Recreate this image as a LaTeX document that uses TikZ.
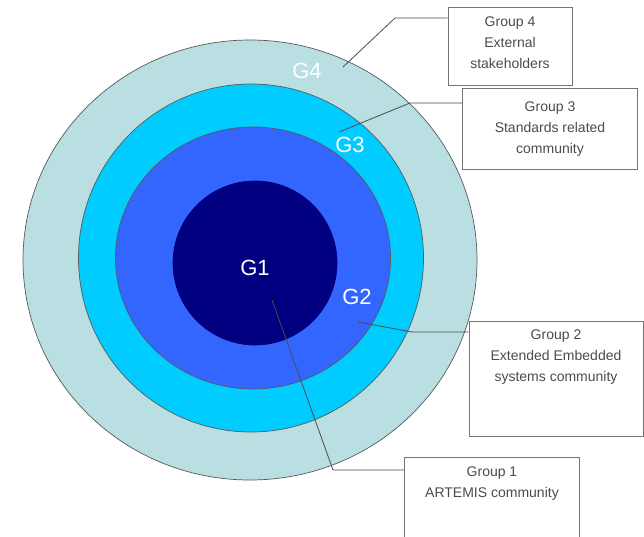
\documentclass[tikz,border=0pt]{standalone}
\usepackage{fontspec}
\setmainfont{Liberation Sans}
\usetikzlibrary{shapes.geometric}
\definecolor{ringgrey}{HTML}{B9DFE3}
\definecolor{ringcyan}{HTML}{00CCFF}
\definecolor{ringblue}{HTML}{3366FF}
\definecolor{ringnavy}{HTML}{000080}
\tikzset{
  ring/.style={ellipse,draw=black!65,line width=0.7pt,inner sep=0pt},
  gname/.style={text=white,font=\fontsize{22}{22}\selectfont,inner sep=0pt},
  grpbox/.style={rectangle,draw=black!55,line width=0.9pt,inner sep=0pt},
  grptext/.style={align=center,text=black!70,font=\fontsize{14}{21}\selectfont,
    anchor=north,inner sep=0pt},
  leader/.style={draw=black!70,line width=0.8pt},
}

\begin{document}
\begin{tikzpicture}[x=1pt,y=-1pt]
\clip (0,0) rectangle (644,537);
\fill[white] (0,0) rectangle (644,537);
% rings, outermost first
\node[ring,fill=ringgrey,minimum width=454,minimum height=440] (g4) at (250,260) {};
\node[ring,fill=ringcyan,minimum width=345,minimum height=348] (g3) at (251,258) {};
\node[ring,fill=ringblue,minimum width=275,minimum height=262] (g2) at (253,258) {};
\node[ring,fill=ringnavy,draw=ringnavy,minimum width=164,minimum height=164] (g1) at (255,263) {};

% group boxes
\node[grpbox,minimum width=124,minimum height=78] (box4) at (510,46) {};
\node[grpbox,minimum width=175,minimum height=81] (box3) at (550,129) {};
\node[grpbox,minimum width=174,minimum height=115] (box2) at (556,379) {};
\node[grpbox,minimum width=175,minimum height=84] (box1) at (492,499) {};

\node[grptext] (txt4) at ([yshift=-10pt]box4.north) {Group 4\\External\\stakeholders};
\node[grptext] (txt3) at ([yshift=-13pt]box3.north) {Group 3\\Standards related\\community};
\node[grptext] (txt2) at ([yshift=-8pt]box2.north) {Group 2\\Extended Embedded\\systems community};
\node[grptext] (txt1) at ([yshift=-10pt]box1.north) {Group 1\\ARTEMIS community};

% leader lines
\coordinate (k4) at (395,18);
\coordinate (e4) at (343,67);
\coordinate (k3) at (410,103);
\coordinate (e3) at (339,132);
\coordinate (k2) at (412,332);
\coordinate (e2) at (358,322);
\coordinate (k1) at (333,470);
\coordinate (e1) at (272,300);
\draw[leader] (box4.west |- k4) -- (k4) -- (e4);
\draw[leader] (box3.west |- k3) -- (k3) -- (e3);
\draw[leader] (box2.west |- k2) -- (k2) -- (e2);
\draw[leader] (box1.west |- k1) -- (k1) -- (e1);

% ring names
\node[gname] (n4) at (307,71) {G4};
\node[gname] (n3) at (350,145) {G3};
\node[gname] (n2) at (357,297) {G2};
\node[gname] (n1) at (255,268) {G1};
\end{tikzpicture}
\end{document}
